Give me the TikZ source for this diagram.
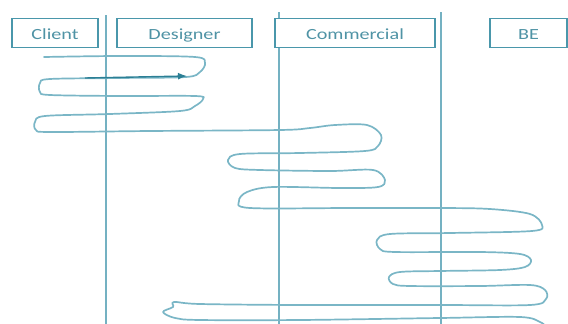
\documentclass[tikz,border=0pt]{standalone}
\usepackage{fontspec}
\setmainfont{Carlito}
\usetikzlibrary{arrows.meta}
\definecolor{boxc}{HTML}{4A97AB}
\definecolor{linec}{HTML}{74B1C2}
\definecolor{scrc}{HTML}{7AB6C6}
\definecolor{txtc}{HTML}{4F93A5}
\definecolor{arrc}{HTML}{2C7F95}
\tikzset{
  header/.style={draw=boxc, line width=1.8pt, minimum height=29pt, inner sep=0pt, text=txtc,
    text height=13pt, text depth=0pt, font=\fontsize{15.5}{15.5}\selectfont},
  lifeline/.style={draw=linec, line width=1.9pt},
  scribble/.style={draw=scrc, line width=1.7pt, line join=round, line cap=round},
  msg/.style={draw=arrc, line width=1.4pt, -{Latex[length=9pt,width=7pt]}}
}
\begin{document}
\begin{tikzpicture}[x=1pt,y=-1pt]
\useasboundingbox (0,0) rectangle (568,324);
% lifelines
\coordinate (l1t) at (106,15); \coordinate (l1b) at (106,324);
\coordinate (l2t) at (279,12); \coordinate (l2b) at (279,324);
\coordinate (l3t) at (441,12); \coordinate (l3b) at (441,324);
\draw[lifeline] (l1t) -- (l1b);
\draw[lifeline] (l2t) -- (l2b);
\draw[lifeline] (l3t) -- (l3b);
% headers
\node[header, fill=white, minimum width=86pt] (client) at (55,33) {\scalebox{1.3}[1]{Client}};
\node[header, fill=white, minimum width=135pt] (designer) at (184.5,33) {\scalebox{1.3}[1]{Designer}};
\node[header, fill=white, minimum width=160pt] (commercial) at (355,33) {\scalebox{1.3}[1]{Commercial}};
\node[header, fill=white, minimum width=77pt] (be) at (528.5,33) {\scalebox{1.3}[1]{BE}};
% scribble
\draw[scribble] plot[smooth, tension=0.55] coordinates {
(44,57) (120,56) (195,57) (205,63) (200,72) (186,77) (120,78) (50,79) (40,83) (40,92) (50,95)
(120,96) (195,96) (203,99) (195,106) (180,111) (110,114) (45,116) (35,122) (36,130) (50,132)
(150,131) (280,130) (310,128) (335,125) (367,125) (381,135) (378,146) (365,151) (300,153)
(240,154) (228,160) (235,168) (260,170) (330,171) (373,170) (385,180) (378,187) (340,188)
(273,187) (247,192) (239,201) (250,208) (350,208) (440,208) (490,209) (530,214) (542,225)
(532,231) (450,233) (390,234) (377,240) (380,249) (395,252) (480,252) (520,254) (531,260)
(525,267) (500,270) (440,271) (400,272) (389,277) (393,284) (410,286) (480,286) (530,285)
(545,290) (546,299) (530,305) (440,305) (300,305) (200,304) (174,302) (173,307) (163,312)
(175,318) (200,320) (300,320) (440,318) (520,317) (540,322) (545,326)};
% message arrow
\coordinate (a1) at (85,78);
\coordinate (a2) at (187,76);
\draw[msg] (a1) -- (a2);
\end{tikzpicture}
\end{document}
